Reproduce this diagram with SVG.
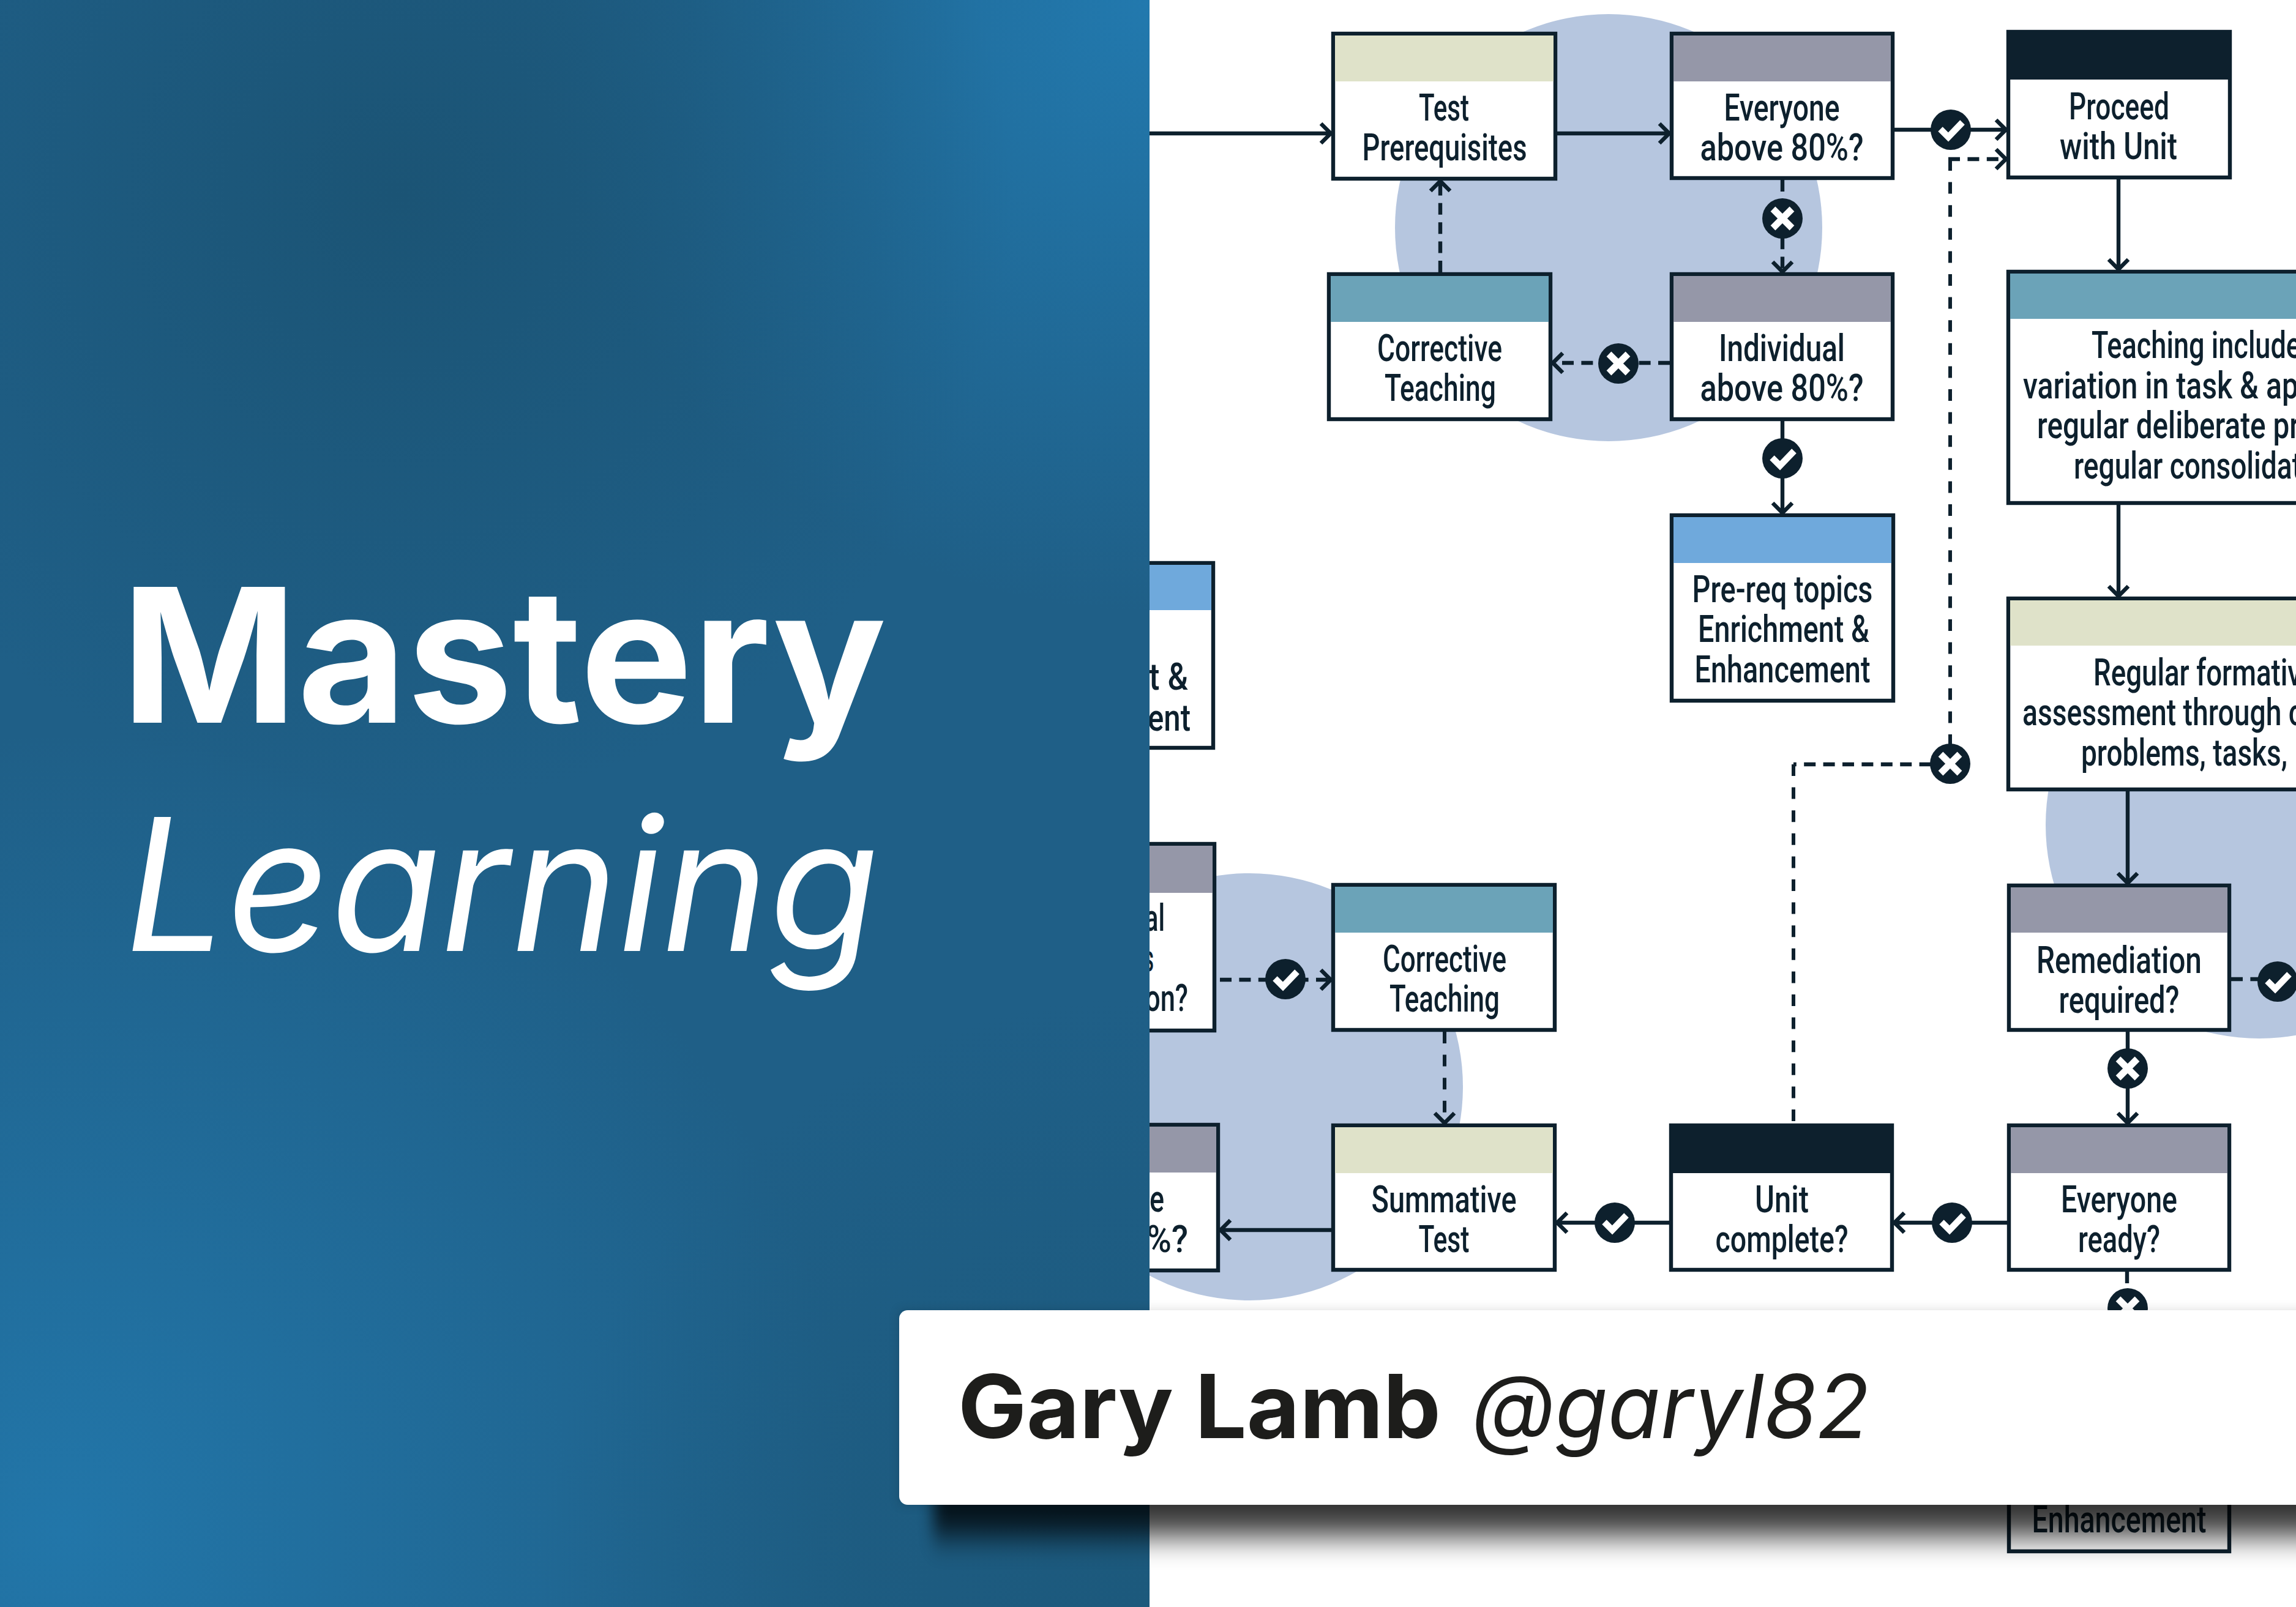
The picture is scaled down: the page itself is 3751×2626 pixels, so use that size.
<svg xmlns="http://www.w3.org/2000/svg" width="3751" height="2626" viewBox="0 0 3751 2626">
<style>
.box{fill:#fff;stroke:#0d202d;stroke-width:6.4}
.sage{fill:#dfe2c9}.grey{fill:#9597a8}.teal{fill:#6ba3b8}.blue{fill:#6fa9dc}.ink{fill:#0d202d}
.bub{fill:#b6c6df}
.t{font-family:"Roboto","Liberation Sans",sans-serif;font-size:61px;font-weight:500;fill:#0d202d;text-anchor:middle}
.e{text-anchor:end}.s{text-anchor:start}
.ln{fill:none;stroke:#0d202d;stroke-width:6.4}
.d{stroke-dasharray:19 12.4}
.d2{stroke-dasharray:19 18.6;stroke-width:6}
.a{marker-end:url(#arr)}
.title{font-family:"Inter","Liberation Sans",sans-serif;fill:#fff}
.band{font-family:"Inter","Liberation Sans",sans-serif;fill:#1d1d1b;font-size:144px}
</style>
<defs>
<marker id="arr" markerUnits="userSpaceOnUse" markerWidth="40" markerHeight="50" refX="30" refY="25" orient="auto" viewBox="0 0 40 50">
<path d="M13 9L29 25L13 41" fill="none" stroke="#0d202d" stroke-width="6.6"/>
</marker>
<g id="ok"><circle r="33" fill="#0d202d"/><path d="M-17-1L-4 12L19-12" fill="none" stroke="#fff" stroke-width="10.5"/></g>
<g id="no"><circle r="33" fill="#0d202d"/><path d="M-15.500-15.500L15.500 15.500M15.500-15.500L-15.500 15.500" fill="none" stroke="#fff" stroke-width="11"/></g>
<radialGradient id="g1" gradientUnits="userSpaceOnUse" cx="1878" cy="0" r="1000"><stop offset="0" stop-color="#2279ae"/><stop offset="1" stop-color="#2279ae" stop-opacity="0"/></radialGradient>
<radialGradient id="g2" gradientUnits="userSpaceOnUse" cx="100" cy="2500" r="1300"><stop offset="0" stop-color="#2276a9"/><stop offset="1" stop-color="#2276a9" stop-opacity="0"/></radialGradient>
<radialGradient id="g3" gradientUnits="userSpaceOnUse" cx="650" cy="320" r="1000"><stop offset="0" stop-color="#1b5475"/><stop offset="1" stop-color="#1b5475" stop-opacity="0"/></radialGradient>
<radialGradient id="g4" gradientUnits="userSpaceOnUse" cx="1878" cy="2626" r="1000"><stop offset="0" stop-color="#1c597c"/><stop offset="1" stop-color="#1c597c" stop-opacity="0"/></radialGradient>
<filter id="sh1" filterUnits="userSpaceOnUse" x="1300" y="2000" width="2700" height="700"><feGaussianBlur stdDeviation="12 25"/></filter>
<filter id="sh2" filterUnits="userSpaceOnUse" x="1300" y="2000" width="2700" height="700"><feGaussianBlur stdDeviation="9"/></filter>
</defs>
<rect width="3751" height="2626" fill="#fff"/>
<g id="bubbles">
<circle class="bub" cx="2628" cy="372" r="349"/>
<circle class="bub" cx="2041" cy="1776" r="349"/>
<circle class="bub" cx="3691" cy="1348" r="349"/>
</g>
<g id="connectors">
<path class="ln a" d="M1800 218H2175"/>
<path class="ln a" d="M2544 218H2728"/>
<path class="ln a" d="M3095 212H3278"/>
<path class="ln a" d="M3461 293V441"/>
<path class="ln a" d="M3461 825V975"/>
<path class="ln a" d="M3476 1293V1444"/>
<path class="ln a" d="M3476 1686V1836"/>
<path class="ln a" d="M3279 1998H3094"/>
<path class="ln a" d="M2727 1998H2543"/>
<path class="ln a" d="M2175 2010H1993"/>
<path class="ln a" d="M2912 688V839"/>
<path class="ln d a" d="M2912 294V445"/>
<path class="ln d a" d="M2728 593H2536"/>
<path class="ln d a" d="M2353 445V295"/>
<path class="ln d a" d="M1993 1601H2175"/>
<path class="ln d2 a" d="M2360 1686V1836"/>
<path class="ln d" d="M3645 1600H3751"/>
<path class="ln d" d="M3475 2078V2138"/>
<path class="ln d a" d="M3183 260H3278"/>
<path class="ln d2" d="M3186 260V1248"/>
<path class="ln d" d="M3186 1249H2930"/>
<path class="ln d2" d="M2930 1249V1836"/>
<use href="#ok" x="3187" y="212"/>
<use href="#no" x="2912" y="357"/>
<use href="#no" x="2644" y="594"/>
<use href="#ok" x="2912" y="749"/>
<use href="#no" x="3186" y="1248"/>
<use href="#ok" x="2100" y="1600"/>
<use href="#ok" x="3721" y="1604"/>
<use href="#no" x="3476" y="1746"/>
<use href="#ok" x="3189" y="1998"/>
<use href="#ok" x="2638" y="1998"/>
<use href="#no" x="3476" y="2138"/>
</g>
<g id="test-prerequisites"><rect class="box" x="2178" y="55" width="363" height="237"/><rect class="sage" x="2181" y="58" width="357" height="75"/>
<text class="t" x="2359" y="197" textLength="82" lengthAdjust="spacingAndGlyphs">Test</text><text class="t" x="2360" y="262" textLength="269" lengthAdjust="spacingAndGlyphs">Prerequisites</text></g>
<g id="everyone-above"><rect class="box" x="2731" y="55" width="361" height="236"/><rect class="grey" x="2734" y="58" width="355" height="75"/>
<text class="t" x="2911" y="197" textLength="189" lengthAdjust="spacingAndGlyphs">Everyone</text><text class="t" x="2911" y="262" textLength="267" lengthAdjust="spacingAndGlyphs">above 80%?</text></g>
<g id="proceed"><rect class="box" x="3281" y="52" width="362" height="238"/><rect class="ink" x="3278" y="49" width="368" height="81"/>
<text class="t" x="3462" y="195" textLength="164" lengthAdjust="spacingAndGlyphs">Proceed</text><text class="t" x="3461" y="260" textLength="192" lengthAdjust="spacingAndGlyphs">with Unit</text></g>
<g id="corrective-1"><rect class="box" x="2171" y="448" width="362" height="237"/><rect class="teal" x="2174" y="451" width="356" height="75"/>
<text class="t" x="2352" y="590" textLength="204" lengthAdjust="spacingAndGlyphs">Corrective</text><text class="t" x="2353" y="655" textLength="182" lengthAdjust="spacingAndGlyphs">Teaching</text></g>
<g id="individual-above"><rect class="box" x="2731" y="448" width="361" height="237"/><rect class="grey" x="2734" y="451" width="355" height="75"/>
<text class="t" x="2911" y="590" textLength="206" lengthAdjust="spacingAndGlyphs">Individual</text><text class="t" x="2911" y="655" textLength="267" lengthAdjust="spacingAndGlyphs">above 80%?</text></g>
<g id="prereq-topics"><rect class="box" x="2731" y="842" width="362" height="303"/><rect class="blue" x="2734" y="845" width="356" height="75"/>
<text class="t" x="2912" y="984" textLength="295" lengthAdjust="spacingAndGlyphs">Pre-req topics</text><text class="t" x="2914" y="1049" textLength="280" lengthAdjust="spacingAndGlyphs">Enrichment &amp;</text><text class="t" x="2912" y="1115" textLength="287" lengthAdjust="spacingAndGlyphs">Enhancement</text></g>
<g id="teaching-includes"><rect class="box" x="3281" y="444" width="600" height="378"/><rect class="teal" x="3284" y="447" width="600" height="74"/>
<text class="t s" x="3417" y="585" textLength="342" lengthAdjust="spacingAndGlyphs">Teaching include</text><text class="t s" x="3305" y="651" textLength="450" lengthAdjust="spacingAndGlyphs">variation in task &amp; ap</text><text class="t s" x="3328" y="716" textLength="429" lengthAdjust="spacingAndGlyphs">regular deliberate pr</text><text class="t s" x="3388" y="782" textLength="372" lengthAdjust="spacingAndGlyphs">regular consolidat</text></g>
<g id="regular-formative"><rect class="box" x="3281" y="978" width="600" height="312"/><rect class="sage" x="3284" y="981" width="600" height="74"/>
<text class="t s" x="3420" y="1120" textLength="340" lengthAdjust="spacingAndGlyphs">Regular formativ</text><text class="t s" x="3304" y="1185" textLength="459" lengthAdjust="spacingAndGlyphs">assessment through c</text><text class="t s" x="3400" y="1251" textLength="337" lengthAdjust="spacingAndGlyphs">problems, tasks,</text></g>
<g id="remediation"><rect class="box" x="3282" y="1447" width="360" height="236"/><rect class="grey" x="3285" y="1450" width="354" height="74"/>
<text class="t" x="3462" y="1590" textLength="270" lengthAdjust="spacingAndGlyphs">Remediation</text><text class="t" x="3462" y="1655" textLength="197" lengthAdjust="spacingAndGlyphs">required?</text></g>
<g id="everyone-ready"><rect class="box" x="3282" y="1839" width="360" height="236"/><rect class="grey" x="3285" y="1842" width="354" height="75"/>
<text class="t" x="3462" y="1981" textLength="190" lengthAdjust="spacingAndGlyphs">Everyone</text><text class="t" x="3462" y="2046" textLength="134" lengthAdjust="spacingAndGlyphs">ready?</text></g>
<g id="unit-complete"><rect class="box" x="2730" y="1839" width="361" height="236"/><rect class="ink" x="2727" y="1836" width="367" height="81"/>
<text class="t" x="2911" y="1981" textLength="88" lengthAdjust="spacingAndGlyphs">Unit</text><text class="t" x="2911" y="2046" textLength="217" lengthAdjust="spacingAndGlyphs">complete?</text></g>
<g id="summative"><rect class="box" x="2178" y="1839" width="362" height="236"/><rect class="sage" x="2181" y="1842" width="356" height="75"/>
<text class="t" x="2359" y="1981" textLength="237" lengthAdjust="spacingAndGlyphs">Summative</text><text class="t" x="2359" y="2046" textLength="83" lengthAdjust="spacingAndGlyphs">Test</text></g>
<g id="corrective-2"><rect class="box" x="2178" y="1446" width="362" height="237"/><rect class="teal" x="2181" y="1449" width="356" height="75"/>
<text class="t" x="2360" y="1588" textLength="202" lengthAdjust="spacingAndGlyphs">Corrective</text><text class="t" x="2360" y="1653" textLength="180" lengthAdjust="spacingAndGlyphs">Teaching</text></g>
<g id="partial-assessment"><rect class="box" x="1620" y="920" width="362" height="302"/><rect class="blue" x="1623" y="923" width="356" height="74"/>
<text class="t e" x="1941" y="1127" textLength="64" lengthAdjust="spacingAndGlyphs">t &amp;</text><text class="t e" x="1945" y="1194" textLength="70" lengthAdjust="spacingAndGlyphs">ent</text></g>
<g id="partial-question"><rect class="box" x="1620" y="1379" width="364" height="305"/><rect class="grey" x="1623" y="1382" width="358" height="77"/>
<text class="t e" x="1903" y="1521" textLength="33" lengthAdjust="spacingAndGlyphs">al</text><text class="t e" x="1885" y="1587" textLength="17" lengthAdjust="spacingAndGlyphs">s</text><text class="t e" x="1941" y="1652" textLength="70" lengthAdjust="spacingAndGlyphs">on?</text></g>
<g id="partial-above"><rect class="box" x="1620" y="1838" width="370" height="238"/><rect class="grey" x="1623" y="1841" width="364" height="75"/>
<text class="t e" x="1902" y="1980" textLength="24" lengthAdjust="spacingAndGlyphs">e</text><text class="t e" x="1941" y="2046" textLength="68" lengthAdjust="spacingAndGlyphs">%?</text></g>
<g id="enhancement-bottom"><rect class="box" x="3282" y="2220" width="360" height="315"/>
<text class="t" x="3462" y="2504" textLength="285" lengthAdjust="spacingAndGlyphs">Enhancement</text></g>
<g id="panel">
<rect width="1878" height="2626" fill="#1f5f87"/>
<rect width="1878" height="2626" fill="url(#g1)"/>
<rect width="1878" height="2626" fill="url(#g2)"/>
<rect width="1878" height="2626" fill="url(#g3)"/>
<rect width="1878" height="2626" fill="url(#g4)"/>
<text class="title" x="198" y="1181" font-size="305" font-weight="700" textLength="1250" lengthAdjust="spacingAndGlyphs">Mastery</text>
<text class="title" x="204" y="1554" font-size="301" font-weight="400" font-style="italic" textLength="1232" lengthAdjust="spacingAndGlyphs">Learning</text>
</g>
<rect x="1525" y="2200" width="2400" height="310" fill="#000" opacity=".78" filter="url(#sh1)"/>
<rect x="1469" y="2141" width="2400" height="318" fill="#000" opacity=".14" filter="url(#sh2)"/>
<g id="author-band">
<rect x="1469" y="2141" width="2400" height="318" rx="14" fill="#fff"/>
<text class="band" x="1565" y="2350" font-weight="700" textLength="789" lengthAdjust="spacingAndGlyphs">Gary Lamb</text>
<text class="band" x="2405" y="2350" font-weight="400" font-style="italic" textLength="649" lengthAdjust="spacingAndGlyphs">@garyl82</text>
</g>
</svg>
